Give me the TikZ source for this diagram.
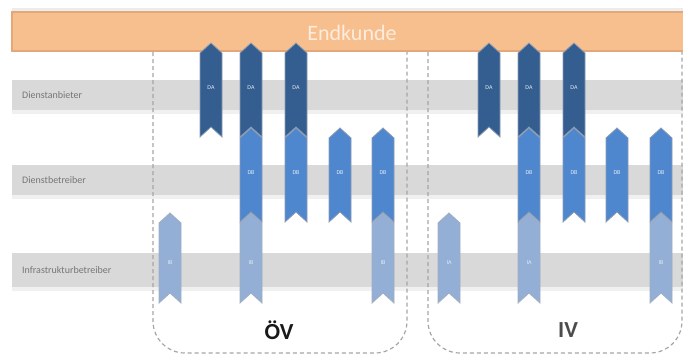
\documentclass[tikz,border=0pt]{standalone}
\usepackage{fontspec}
\setmainfont{Carlito}
\definecolor{orangefill}{HTML}{F8BF8E}
\definecolor{orangeline}{HTML}{E2A77A}
\definecolor{band}{HTML}{D9D9D9}
\definecolor{bandshadow}{HTML}{F0F0F0}
\definecolor{darkblue}{HTML}{345E8F}
\definecolor{midblue}{HTML}{4F87CF}
\definecolor{lightblue}{HTML}{93AFD5}
\definecolor{chevline}{HTML}{8A9AB2}
\definecolor{boxdash}{HTML}{A6A6A6}
\definecolor{rowtext}{HTML}{767676}
\newcommand\chevron[7]{%
  \filldraw[#5] (#2-11,#3+10) -- (#2,#3) -- (#2+11,#3+10) -- (#2+11,#4) -- (#2,#4-10) -- (#2-11,#4) -- cycle;
  \node[chevlabel] (#1) at (#2,#6) {#7};}
\begin{document}
\begin{tikzpicture}[x=1pt,y=-1pt,
  bandstyle/.style={fill=band, draw=none},
  rowlabel/.style={anchor=west, text=rowtext, font=\fontsize{10}{11}\selectfont, inner sep=0pt},
  chevlabel/.style={text=white!75!lightblue, font=\fontsize{6}{7}\selectfont, inner sep=0pt},
  darkchev/.style={fill=darkblue, draw=chevline, line width=0.8pt},
  midchev/.style={fill=midblue, draw=chevline, line width=0.8pt},
  lightchev/.style={fill=lightblue, draw=chevline!80!white, line width=0.8pt},
  groupbox/.style={draw=boxdash, dashed, dash pattern=on 4pt off 3pt, line width=1.2pt, rounded corners=32pt},
  grouplabel/.style={font=\bfseries\fontsize{23}{26}\selectfont}]
\useasboundingbox (0,0) rectangle (683,356);
% bands
\fill[bandshadow] (12,110) rectangle (683,114);
\fill[bandshadow] (12,195) rectangle (683,199);
\fill[bandshadow] (12,287) rectangle (683,291);
\fill[bandstyle] (12,80) rectangle (683,110);
\fill[bandstyle] (12,165) rectangle (683,195);
\fill[bandstyle] (12,253) rectangle (683,287);
\node[rowlabel] (r1) at (22,95) {Dienstanbieter};
\node[rowlabel] (r2) at (22,180) {Dienstbetreiber};
\node[rowlabel] (r3) at (22,270) {Infrastrukturbetreiber};
% group boxes
\draw[groupbox] (153,20) rectangle (407,353);
\draw[groupbox] (428,20) rectangle (682,353);
\node[grouplabel, text=black!90] (oev) at (279,330) {ÖV};
\node[grouplabel, text=black!70] (iv) at (568,330) {IV};
% top bar
\fill[gray!15] (12,8) rectangle (683,12);
\filldraw[fill=orangefill, draw=orangeline, line width=1.2pt] (12,12) rectangle (690,51);
\node[text=white!70!orangefill, font=\fontsize{22}{24}\selectfont] (endkunde) at (352,33) {Endkunde};
% light chevrons
\chevron{l1}{170}{213}{303}{lightchev}{263}{IB}
\chevron{l2}{251}{213}{303}{lightchev}{263}{IB}
\chevron{l3}{383}{213}{303}{lightchev}{263}{IB}
\chevron{l4}{449}{213}{303}{lightchev}{263}{IA}
\chevron{l5}{529}{213}{303}{lightchev}{263}{IA}
\chevron{l6}{661}{213}{303}{lightchev}{263}{IB}
% medium chevrons
\chevron{m1}{251}{128}{222}{midchev}{173}{DB}
\chevron{m2}{296}{128}{222}{midchev}{173}{DB}
\chevron{m3}{340}{128}{222}{midchev}{173}{DB}
\chevron{m4}{383}{128}{222}{midchev}{173}{DB}
\chevron{m5}{529}{128}{222}{midchev}{173}{DB}
\chevron{m6}{574}{128}{222}{midchev}{173}{DB}
\chevron{m7}{617}{128}{222}{midchev}{173}{DB}
\chevron{m8}{661}{128}{222}{midchev}{173}{DB}
% dark chevrons
\chevron{d1}{211}{43}{137}{darkchev}{88}{DA}
\chevron{d2}{251}{43}{137}{darkchev}{88}{DA}
\chevron{d3}{296}{43}{137}{darkchev}{88}{DA}
\chevron{d4}{489}{43}{137}{darkchev}{88}{DA}
\chevron{d5}{529}{43}{137}{darkchev}{88}{DA}
\chevron{d6}{574}{43}{137}{darkchev}{88}{DA}
\end{tikzpicture}
\end{document}
